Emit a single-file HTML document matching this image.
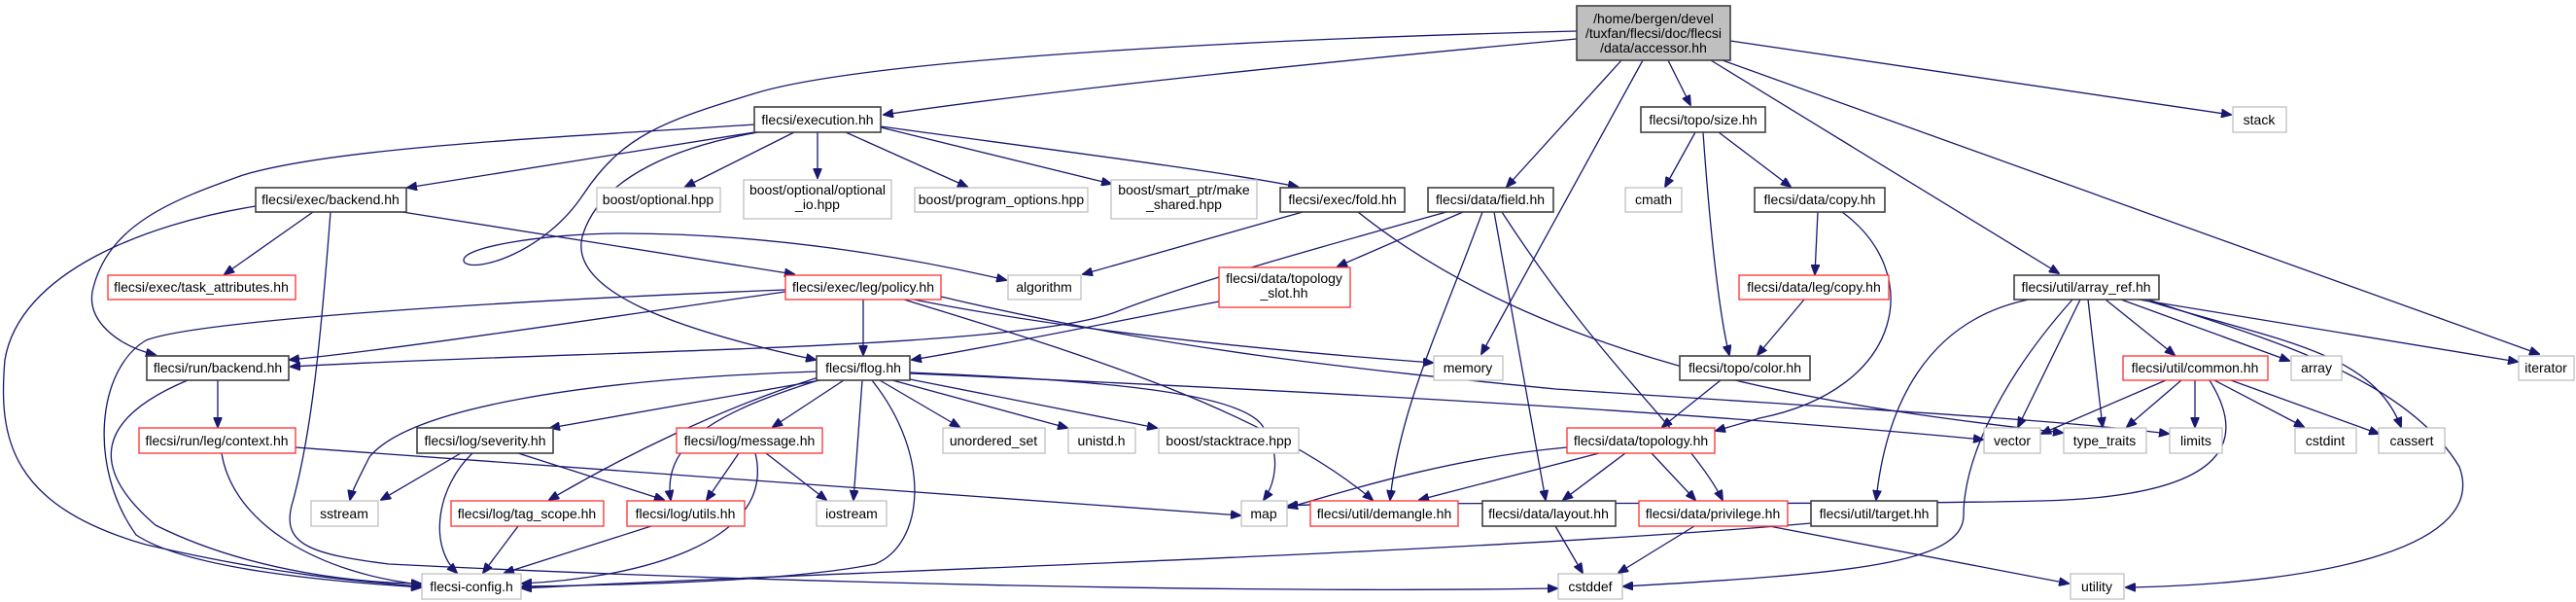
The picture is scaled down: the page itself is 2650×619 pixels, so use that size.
<!DOCTYPE html>
<html><head><meta charset="utf-8"><style>
html,body{margin:0;padding:0;background:#fff;}
svg{display:block;}
text{font-family:"Liberation Sans",Arial,sans-serif;font-size:14px;fill:#000;text-anchor:middle;}
.e{fill:none;stroke:#191970;stroke-width:1.3;marker-end:url(#a);}
.b{fill:#fff;stroke:#404040;stroke-width:1.6;}
.r{fill:#fff;stroke:#ff3030;stroke-width:1.3;}
.g{fill:#fff;stroke:#bfbfbf;stroke-width:1.3;}
</style></head><body>
<svg width="2650" height="619" viewBox="0 0 2650 619" xmlns="http://www.w3.org/2000/svg">
<defs><marker id="a" markerWidth="11" markerHeight="9" refX="10" refY="4.5" orient="auto" markerUnits="userSpaceOnUse"><path d="M0,0 L11,4.5 L0,9 z" fill="#191970" stroke="#191970"/></marker></defs>
<g>
<path class="e" d="M1622,40 C1400,60 1100,90 909,118"/>
<path class="e" d="M1622,32 C1300,40 900,60 780,95 C680,125 640,140 600,200 C560,260 490,280 478,270 C466,255 560,240 640,240 C800,240 950,268 1035,288"/>
<path class="e" d="M1668,62 L1550,192"/>
<path class="e" d="M1690,62 L1524,364"/>
<path class="e" d="M1716,62 L1739,108"/>
<path class="e" d="M1760,62 L2118,281"/>
<path class="e" d="M1772,62 L2612,364"/>
<path class="e" d="M1780,42 L2295,118"/>
<path class="e" d="M776,136 L419,193"/>
<path class="e" d="M776,128 C600,140 350,150 250,180 C180,205 110,230 95,300 C90,330 120,355 160,365"/>
<path class="e" d="M780,136 C700,150 620,180 600,240 C580,300 700,340 839,370"/>
<path class="e" d="M817,136 L705,192"/>
<path class="e" d="M841,136 L841,183"/>
<path class="e" d="M870,136 L995,192"/>
<path class="e" d="M906,131 L1143,189"/>
<path class="e" d="M906,130 C1050,150 1250,175 1335,192"/>
<path class="e" d="M322,218 L231,282"/>
<path class="e" d="M414,218 L817,282"/>
<path class="e" d="M263,212 C150,230 20,280 5,370 C-2,450 10,520 150,560 C300,595 400,600 433,603"/>
<path class="e" d="M340,218 C330,350 320,450 300,520 C290,560 320,570 400,580 C800,600 1300,610 1602,605"/>
<path class="e" d="M888,308 L888,365"/>
<path class="e" d="M808,300 C600,330 400,360 298,370"/>
<path class="e" d="M808,298 C500,310 200,330 150,350 C100,380 90,480 140,550 C200,590 380,600 433,604"/>
<path class="e" d="M940,308 C1100,340 1300,360 1474,373"/>
<path class="e" d="M930,308 C1100,360 1300,420 1412,514"/>
<path class="e" d="M968,305 C1200,360 1400,380 1600,400 C1900,420 2100,430 2231,446"/>
<path class="e" d="M1340,218 L1114,282"/>
<path class="e" d="M1397,218 C1600,380 1900,420 2122,445"/>
<path class="e" d="M1488,218 C1300,270 1200,300 1150,320 C1050,360 600,360 299,377"/>
<path class="e" d="M1505,218 L1376,274"/>
<path class="e" d="M1525,218 C1480,340 1440,420 1430,514"/>
<path class="e" d="M1537,218 L1590,514"/>
<path class="e" d="M1545,218 C1650,380 1740,450 1772,514"/>
<path class="e" d="M1254,310 C1100,340 1000,360 938,370"/>
<path class="e" d="M224,391 L224,439"/>
<path class="e" d="M193,391 C100,430 90,480 160,540 C260,590 380,600 433,600"/>
<path class="e" d="M228,466 C240,540 330,590 433,601"/>
<path class="e" d="M304,460 C700,490 1100,515 1276,530"/>
<path class="e" d="M840,382 C600,390 420,420 380,470 C370,490 362,505 360,514"/>
<path class="e" d="M844,391 L566,440"/>
<path class="e" d="M842,388 C740,420 640,470 565,514"/>
<path class="e" d="M845,390 C750,420 680,450 690,514"/>
<path class="e" d="M868,391 L795,439"/>
<path class="e" d="M887,391 L878,514"/>
<path class="e" d="M897,391 C960,470 950,560 900,580 C800,600 600,602 537,603"/>
<path class="e" d="M905,391 L987,439"/>
<path class="e" d="M918,391 L1098,440"/>
<path class="e" d="M936,390 L1190,440"/>
<path class="e" d="M936,383 C1100,390 1280,400 1300,440 C1320,470 1310,500 1300,514"/>
<path class="e" d="M936,384 C1300,400 1700,420 2040,452"/>
<path class="e" d="M474,466 L392,514"/>
<path class="e" d="M486,466 C450,500 440,560 470,589"/>
<path class="e" d="M533,466 L683,514"/>
<path class="e" d="M760,466 L727,514"/>
<path class="e" d="M788,466 L850,514"/>
<path class="e" d="M777,466 C800,560 650,595 537,600"/>
<path class="e" d="M533,541 L497,589"/>
<path class="e" d="M670,541 L519,589"/>
<path class="e" d="M1744,136 L1713,192"/>
<path class="e" d="M1768,136 L1842,192"/>
<path class="e" d="M1752,136 C1760,250 1770,330 1779,365"/>
<path class="e" d="M1870,218 L1867,282"/>
<path class="e" d="M1895,218 C1980,280 1960,400 1810,430 L1765,443"/>
<path class="e" d="M1856,308 L1808,365"/>
<path class="e" d="M1770,391 L1710,439"/>
<path class="e" d="M1612,460 C1500,470 1400,500 1325,522"/>
<path class="e" d="M1645,466 L1460,514"/>
<path class="e" d="M1672,466 L1608,514"/>
<path class="e" d="M1699,466 L1744,514"/>
<path class="e" d="M1600,541 L1628,589"/>
<path class="e" d="M1743,541 L1665,589"/>
<path class="e" d="M1820,541 L2128,600"/>
<path class="e" d="M1863,538 C1500,570 800,590 537,605"/>
<path class="e" d="M2166,308 L2237,365"/>
<path class="e" d="M2140,308 L2076,439"/>
<path class="e" d="M2148,308 L2163,439"/>
<path class="e" d="M2182,308 L2355,371"/>
<path class="e" d="M2200,308 L2590,372"/>
<path class="e" d="M2205,308 C2340,350 2440,360 2470,439"/>
<path class="e" d="M2210,308 C2300,340 2470,380 2530,480 C2560,560 2400,600 2187,604"/>
<path class="e" d="M2087,308 C1980,330 1940,420 1930,514"/>
<path class="e" d="M2132,308 C2050,400 2020,480 2020,530 C2020,580 1900,590 1670,603"/>
<path class="e" d="M2228,391 L2100,446"/>
<path class="e" d="M2244,391 L2188,439"/>
<path class="e" d="M2258,391 L2258,439"/>
<path class="e" d="M2278,391 L2370,439"/>
<path class="e" d="M2295,391 L2447,446"/>
<path class="e" d="M2273,391 C2310,450 2300,510 2100,515 C1900,520 1400,515 1325,520"/>
</g>
<g>
<rect x="1622" y="6" width="158" height="56" fill="#bfbfbf" stroke="#404040" stroke-width="1.6"/>
<text x="1701" y="24">/home/bergen/devel</text><text x="1701" y="39">/tuxfan/flecsi/doc/flecsi</text><text x="1701" y="54">/data/accessor.hh</text>
<rect class="b" x="776" y="110" width="130" height="26"/><text x="841" y="128">flecsi/execution.hh</text>
<rect class="b" x="1688" y="110" width="128" height="26"/><text x="1752" y="128">flecsi/topo/size.hh</text>
<rect class="g" x="2297" y="110" width="55" height="26"/><text x="2324" y="128">stack</text>
<rect class="b" x="263" y="193" width="155" height="25"/><text x="340" y="210">flecsi/exec/backend.hh</text>
<rect class="g" x="614" y="193" width="127" height="25"/><text x="677" y="210">boost/optional.hpp</text>
<rect class="g" x="765" y="185" width="152" height="40"/><text x="841" y="200">boost/optional/optional</text><text x="841" y="215">_io.hpp</text>
<rect class="g" x="941" y="193" width="178" height="25"/><text x="1030" y="210">boost/program_options.hpp</text>
<rect class="g" x="1143" y="185" width="150" height="40"/><text x="1218" y="200">boost/smart_ptr/make</text><text x="1218" y="215">_shared.hpp</text>
<rect class="b" x="1317" y="193" width="128" height="25"/><text x="1381" y="210">flecsi/exec/fold.hh</text>
<rect class="b" x="1469" y="193" width="129" height="25"/><text x="1533" y="210">flecsi/data/field.hh</text>
<rect class="g" x="1672" y="193" width="58" height="25"/><text x="1701" y="210">cmath</text>
<rect class="b" x="1805" y="193" width="134" height="25"/><text x="1872" y="210">flecsi/data/copy.hh</text>
<rect class="r" x="111" y="283" width="193" height="25"/><text x="207" y="300">flecsi/exec/task_attributes.hh</text>
<rect class="r" x="808" y="283" width="160" height="25"/><text x="888" y="300">flecsi/exec/leg/policy.hh</text>
<rect class="g" x="1037" y="283" width="75" height="25"/><text x="1074" y="300">algorithm</text>
<rect class="r" x="1254" y="275" width="135" height="41"/><text x="1321" y="291">flecsi/data/topology</text><text x="1321" y="306">_slot.hh</text>
<rect class="r" x="1789" y="283" width="154" height="25"/><text x="1866" y="300">flecsi/data/leg/copy.hh</text>
<rect class="b" x="2072" y="283" width="149" height="25"/><text x="2146" y="300">flecsi/util/array_ref.hh</text>
<rect class="b" x="151" y="366" width="146" height="25"/><text x="224" y="383">flecsi/run/backend.hh</text>
<rect class="b" x="840" y="366" width="96" height="25"/><text x="888" y="383">flecsi/flog.hh</text>
<rect class="g" x="1475" y="366" width="71" height="25"/><text x="1510" y="383">memory</text>
<rect class="b" x="1728" y="366" width="134" height="25"/><text x="1795" y="383">flecsi/topo/color.hh</text>
<rect class="r" x="2184" y="366" width="149" height="25"/><text x="2258" y="383">flecsi/util/common.hh</text>
<rect class="g" x="2357" y="366" width="52" height="25"/><text x="2383" y="383">array</text>
<rect class="g" x="2591" y="366" width="57" height="25"/><text x="2619" y="383">iterator</text>
<rect class="r" x="143" y="440" width="161" height="26"/><text x="223" y="458">flecsi/run/leg/context.hh</text>
<rect class="b" x="429" y="440" width="140" height="26"/><text x="499" y="458">flecsi/log/severity.hh</text>
<rect class="r" x="696" y="440" width="150" height="26"/><text x="771" y="458">flecsi/log/message.hh</text>
<rect class="g" x="970" y="440" width="105" height="26"/><text x="1022" y="458">unordered_set</text>
<rect class="g" x="1099" y="440" width="69" height="26"/><text x="1133" y="458">unistd.h</text>
<rect class="g" x="1192" y="440" width="144" height="26"/><text x="1264" y="458">boost/stacktrace.hpp</text>
<rect class="r" x="1612" y="440" width="152" height="26"/><text x="1688" y="458">flecsi/data/topology.hh</text>
<rect class="g" x="2041" y="440" width="58" height="26"/><text x="2070" y="458">vector</text>
<rect class="g" x="2123" y="440" width="85" height="26"/><text x="2165" y="458">type_traits</text>
<rect class="g" x="2232" y="440" width="54" height="26"/><text x="2259" y="458">limits</text>
<rect class="g" x="2361" y="440" width="63" height="26"/><text x="2392" y="458">cstdint</text>
<rect class="g" x="2447" y="440" width="68" height="26"/><text x="2481" y="458">cassert</text>
<rect class="g" x="320" y="515" width="69" height="26"/><text x="354" y="533">sstream</text>
<rect class="r" x="464" y="515" width="157" height="26"/><text x="542" y="533">flecsi/log/tag_scope.hh</text>
<rect class="r" x="645" y="515" width="121" height="26"/><text x="705" y="533">flecsi/log/utils.hh</text>
<rect class="g" x="840" y="515" width="72" height="26"/><text x="876" y="533">iostream</text>
<rect class="g" x="1277" y="515" width="47" height="26"/><text x="1300" y="533">map</text>
<rect class="r" x="1348" y="515" width="152" height="26"/><text x="1424" y="533">flecsi/util/demangle.hh</text>
<rect class="b" x="1525" y="515" width="137" height="26"/><text x="1593" y="533">flecsi/data/layout.hh</text>
<rect class="r" x="1686" y="515" width="153" height="26"/><text x="1762" y="533">flecsi/data/privilege.hh</text>
<rect class="b" x="1863" y="515" width="130" height="26"/><text x="1928" y="533">flecsi/util/target.hh</text>
<rect class="g" x="434" y="590" width="102" height="26"/><text x="485" y="608">flecsi-config.h</text>
<rect class="g" x="1603" y="590" width="66" height="26"/><text x="1636" y="608">cstddef</text>
<rect class="g" x="2130" y="590" width="55" height="26"/><text x="2157" y="608">utility</text>
</g>
</svg>
</body></html>
